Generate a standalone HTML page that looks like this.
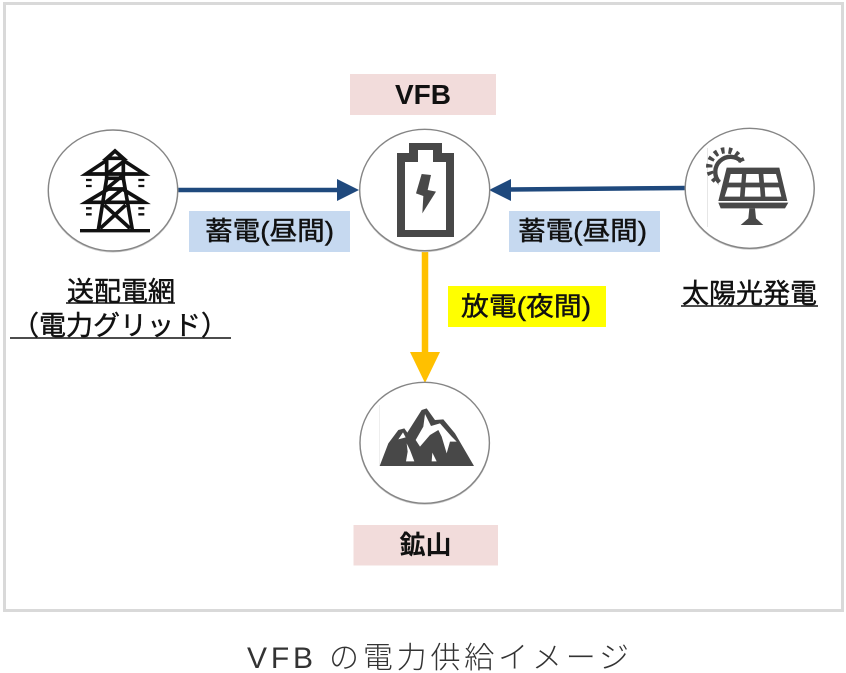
<!DOCTYPE html>
<html><head><meta charset="utf-8">
<style>
html,body{margin:0;padding:0;background:#fff;width:846px;height:673px;overflow:hidden}
svg{display:block}
text{font-family:"Liberation Sans","Noto Sans CJK JP",sans-serif;fill:#111}
.b{stroke:#111;stroke-width:.45px}
</style></head><body>
<svg width="846" height="673" viewBox="0 0 846 673" xmlns="http://www.w3.org/2000/svg">
<rect width="846" height="673" fill="#fff"/>
<rect x="4.5" y="3.5" width="838" height="607" fill="#fff" stroke="#d9d9d9" stroke-width="3"/>

<!-- label boxes -->
<rect x="350" y="74" width="146" height="41" fill="#f2dcdb"/>
<rect x="353.5" y="525" width="144.5" height="40.5" fill="#f2dcdb"/>
<rect x="189" y="211" width="161" height="41" fill="#c6d9f0"/>
<rect x="509" y="211" width="151" height="41" fill="#c6d9f0"/>
<rect x="448" y="286" width="158" height="41" fill="#ffff00"/>

<!-- connectors -->
<line x1="177" y1="190" x2="340" y2="190" stroke="#1f497d" stroke-width="4.5"/>
<polygon points="337,179 359,190 337,201" fill="#1f497d"/>
<line x1="510" y1="189.5" x2="686" y2="188" stroke="#1f497d" stroke-width="4.5"/>
<polygon points="511,179 489,190 511,201" fill="#1f497d"/>
<line x1="425" y1="250" x2="425" y2="355" stroke="#ffc000" stroke-width="6.5"/>
<polygon points="410,352 440,352 425,383" fill="#ffc000"/>

<!-- circle shadows -->
<g fill="none" stroke="#c9c9c9" stroke-width="1.4">
<ellipse cx="113" cy="191.3" rx="64.7" ry="60.5"/>
<ellipse cx="424.7" cy="190.8" rx="65" ry="60.7"/>
<ellipse cx="749.7" cy="189.1" rx="64.5" ry="60"/>
<ellipse cx="424.7" cy="443.6" rx="64.7" ry="60.5"/>
</g>
<!-- circles -->
<ellipse cx="113" cy="190.5" rx="64.7" ry="60.5" fill="#fff" stroke="#858585" stroke-width="1.4"/>
<ellipse cx="424.7" cy="190" rx="65" ry="60.7" fill="#fff" stroke="#858585" stroke-width="1.4"/>
<ellipse cx="749.7" cy="188.3" rx="64.5" ry="60" fill="#fff" stroke="#858585" stroke-width="1.4"/>
<ellipse cx="424.7" cy="442.8" rx="64.7" ry="60.5" fill="#fff" stroke="#858585" stroke-width="1.4"/>
<line x1="707.5" y1="148" x2="707.5" y2="227" stroke="#e6e6e6" stroke-width="1"/>
<line x1="379.5" y1="405" x2="379.5" y2="466" stroke="#eeeeee" stroke-width="1"/>

<!-- tower -->
<g transform="translate(75,145) scale(.33333)" fill="none" stroke="#111" stroke-width="11" stroke-linejoin="miter">
<line x1="15" y1="257" x2="225" y2="257" stroke-width="10"/>
<path d="M95,40L120,18L145,40Z"/>
<path d="M95,40V100L70,255M145,40V100L172,255"/>
<path d="M92,48L33,87H208L148,48"/>
<path d="M100,132L33,172H208L142,132"/>
<path d="M95,100H145M95,87L145,50M96,130L145,90M95,132H145M92,172L145,130M88,180L165,250M152,180L76,250"/>
<path d="M33,105H50M33,123H50M190,105H208M190,123H208M33,190H50M33,208H50M190,190H208M190,208H208" stroke-width="7"/>
</g>

<!-- battery -->
<path fill-rule="evenodd" fill="#484848" d="M397,153H409V143H442V153H454V237H397ZM405,162V230H446V162H433V150H418V162Z"/>
<g transform="translate(340,60) scale(.33333)"><polygon points="245,342 228,400 250,408 247,460 288,395 263,390 273,345" fill="#484848"/></g>

<!-- solar -->
<g transform="translate(700,145) scale(.33333)" fill="#484848">
<path fill-rule="evenodd" d="M80,68H238L262,168H55ZM92,87L86,113H124L126,87ZM139,87L137,113H178L176,87ZM190,87L192,113H235L228,87ZM83,127L74,155H120L122,127ZM136,127L134,155H182L180,127ZM194,127L196,155H244L237,127Z"/>
<polygon points="55,173 265,173 255,190 62,190"/>
<polygon points="148,190 165,190 168,220 190,240 122,240 145,220"/>
<path d="M125,50A45,45 0 1 0 58,112" fill="none" stroke="#484848" stroke-width="13"/>
<path d="M125,50A50,50 0 1 0 58,112" fill="none" stroke="#484848" stroke-width="19" stroke-dasharray="10 12"/>
</g>

<!-- mountain -->
<g transform="translate(375,400) scale(.33333)">
<path fill="#484848" d="M14,198L40,130L70,90L88,85L97,98L140,30L155,25L180,60L205,58L240,100L297,198Z"/>
<path fill="#fff" d="M150,42L168,78L195,70L230,110L245,125L225,125L215,160L200,110L190,90L165,105L135,140L122,120L145,80ZM70,118L84,97L92,112ZM95,130L105,150L118,184H93L98,155ZM172,158L185,184H170Z"/>
</g>

<!-- labels -->
<text x="423" y="104" text-anchor="middle" font-size="28" font-weight="700">VFB</text>
<text x="425.5" y="554" text-anchor="middle" font-size="26" font-weight="700">鉱山</text>
<text class="b" x="205" y="240" font-size="26" textLength="129" lengthAdjust="spacingAndGlyphs">蓄電(昼間)</text>
<text class="b" x="518" y="240" font-size="26" textLength="129" lengthAdjust="spacingAndGlyphs">蓄電(昼間)</text>
<text class="b" x="461" y="315.5" font-size="26" textLength="130" lengthAdjust="spacingAndGlyphs">放電(夜間)</text>
<text class="b" x="121" y="301" text-anchor="middle" font-size="27">送配電網</text>
<line x1="66" y1="303" x2="175" y2="303" stroke="#111" stroke-width="1.5"/>
<text class="b" x="12" y="335" font-size="27" textLength="216" lengthAdjust="spacing">（電力グリッド）</text>
<line x1="10" y1="338" x2="231" y2="338" stroke="#111" stroke-width="1.5"/>
<text class="b" x="749.5" y="303" text-anchor="middle" font-size="27">太陽光発電</text>
<line x1="681" y1="306" x2="818" y2="306" stroke="#111" stroke-width="1.5"/>
<text x="247" y="668" font-size="30" font-weight="300" textLength="382" lengthAdjust="spacing" style="fill:#333">VFB の電力供給イメージ</text>
</svg>
</body></html>
